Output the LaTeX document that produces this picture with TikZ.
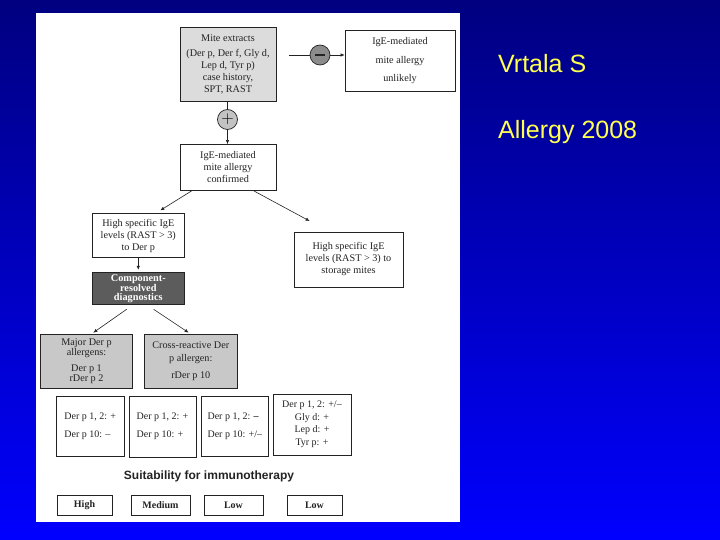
\documentclass[tikz,border=0pt]{standalone}
\usepackage{fontspec}
\setmainfont{Liberation Serif}
\newfontfamily\arialf{Liberation Sans}
\usetikzlibrary{arrows.meta,calc}
\definecolor{bgtop}{RGB}{0,0,128}
\definecolor{bgbot}{RGB}{0,0,255}
\definecolor{inkc}{RGB}{35,35,35}
\definecolor{mitegray}{RGB}{220,220,220}
\definecolor{midgray}{RGB}{200,200,200}
\definecolor{darkbox}{RGB}{92,92,92}
\definecolor{minusgray}{RGB}{140,140,140}
\definecolor{plusgray}{RGB}{195,195,195}
\definecolor{yel}{RGB}{255,255,80}
\tikzset{
  box/.style={draw=inkc, line width=0.7pt, fill=white, inner sep=0pt, align=center,
    text=inkc, font=\fontsize{10.2}{12}\selectfont},
  circ/.style={circle, draw=inkc, line width=0.7pt, minimum size=20pt, inner sep=0pt,
    font=\fontsize{16}{16}\selectfont},
  arr/.style={-{Latex[length=4pt,width=3.5pt]}, line width=0.6pt, draw=inkc},
  ln/.style={line width=0.6pt, draw=inkc},
  yeltext/.style={anchor=base west, text=yel, inner sep=0pt, font=\arialf\fontsize{25}{30}\selectfont},
}
\begin{document}
\begin{tikzpicture}[x=1pt,y=-1pt]
\useasboundingbox (0,0) rectangle (720,540);
\shade[top color=bgtop, bottom color=bgbot] (0,0) rectangle (720,540);
\fill[white] (36,13) rectangle (460,522);

% top row
\node[box, fill=mitegray, minimum width=96pt, minimum height=74pt] (mite) at (228,64)
  {Mite extracts\\[3pt](Der p, Der f, Gly d,\\Lep d, Tyr p)\\case history,\\SPT, RAST};
\node[box, minimum width=110pt, minimum height=61.6pt, font=\fontsize{10.2}{18.5}\selectfont] (unl) at (400,60.8)
  {IgE-mediated\\mite allergy\\unlikely};
\node[circ, fill=minusgray] (minus) at (320,55) {};
\draw[line width=2.2pt, draw=inkc] ([xshift=-5pt]minus.center) -- ([xshift=5pt]minus.center);
\coordinate (mstart) at (289,55);
\draw[ln] (mstart) -- (minus.west);
\draw[arr] (minus.east) -- (minus.east -| unl.west);

\node[circ, fill=plusgray] (plus) at (227.5,119.5) {$+$};
\draw[ln] (mite.south -| plus.north) -- (plus.north);

\node[box, minimum width=96pt, minimum height=46pt] (conf) at (228,167.5)
  {IgE-mediated\\mite allergy\\confirmed};
\draw[arr] (plus.south) -- (plus.south |- conf.north);

\node[box, minimum width=92.6pt, minimum height=44pt] (hl) at (138.3,235.5)
  {High specific IgE\\levels (RAST > 3)\\to Der p};
\node[box, minimum width=109pt, minimum height=55pt] (hr) at (348.5,259.5)
  {High specific IgE\\levels (RAST > 3) to\\storage mites};
\draw[arr] ([xshift=12pt]conf.south west) -- ([xshift=68.7pt,yshift=2.8pt]hl.north west);
\draw[arr] ([xshift=-22.6pt]conf.south east) -- ([xshift=16pt,yshift=10.6pt]hr.north west);

\node[box, fill=darkbox, text=white, minimum width=92.6pt, minimum height=31.7pt,
  font=\fontsize{10.3}{9}\selectfont\bfseries] (cr) at (138.3,288.5)
  {Component-\\resolved\\diagnostics};
\draw[arr, shorten >=2.5pt] (hl.south -| cr.north) -- (cr.north);

\node[box, fill=midgray, minimum width=92.3pt, minimum height=54pt, font=\fontsize{10.2}{10}\selectfont] (major) at (86.5,361.4)
  {Major Der p\\allergens:\\[6pt]Der p 1\\rDer p 2};
\node[box, fill=midgray, minimum width=92.4pt, minimum height=54pt, font=\fontsize{10.2}{12.7}\selectfont] (cross) at (190.8,361.4)
  {Cross-reactive Der\\p allergen:\\[5pt]rDer p 10};
\draw[arr] ([xshift=35pt,yshift=-4.6pt]cr.south west) -- ([xshift=53.3pt,yshift=1.4pt]major.north west);
\draw[arr] ([xshift=62pt,yshift=-4.6pt]cr.south west) -- ([xshift=44.4pt,yshift=1.4pt]cross.north west);

% result row
\node[box, align=left, minimum width=67.5pt, minimum height=60pt, font=\fontsize{10}{18}\selectfont] (r1) at (90.25,426)
  {Der p 1, 2: +\\Der p 10: –};
\node[box, align=left, minimum width=67pt, minimum height=61pt, font=\fontsize{10}{18}\selectfont] (r2) at (162.5,426.5)
  {Der p 1, 2: +\\Der p 10: +};
\node[box, align=left, minimum width=66.4pt, minimum height=60pt, font=\fontsize{10}{18}\selectfont] (r3) at (234.8,426)
  {Der p 1, 2: \textbf{–}\\Der p 10: +/–};
\node[box, minimum width=78pt, minimum height=61pt, font=\fontsize{10}{12.5}\selectfont] (r4) at (312,424.5)
  {Der p 1, 2: +/–\\Gly d: +\\Lep d: +\\Tyr p: +};

\node[text=inkc, inner sep=0pt, font=\arialf\bfseries\fontsize{12}{14}\selectfont] (suit) at (209,476)
  {Suitability for immunotherapy};

\node[box, minimum width=55pt, minimum height=20pt, font=\fontsize{10}{11}\selectfont\bfseries] (b1) at (84.5,505) {High};
\node[box, minimum width=59pt, minimum height=20pt, font=\fontsize{10}{11}\selectfont\bfseries] (b2) at (160.5,505) {Medium};
\node[box, minimum width=59pt, minimum height=20pt, font=\fontsize{10}{11}\selectfont\bfseries] (b3) at (233.5,505) {Low};
\node[box, minimum width=55pt, minimum height=20pt, font=\fontsize{10}{11}\selectfont\bfseries] (b4) at (314.5,505) {Low};

% citation
\node[yeltext] (cit1) at (498,73) {Vrtala S};
\node[yeltext] (cit2) at (498,139) {Allergy 2008};
\end{tikzpicture}
\end{document}
